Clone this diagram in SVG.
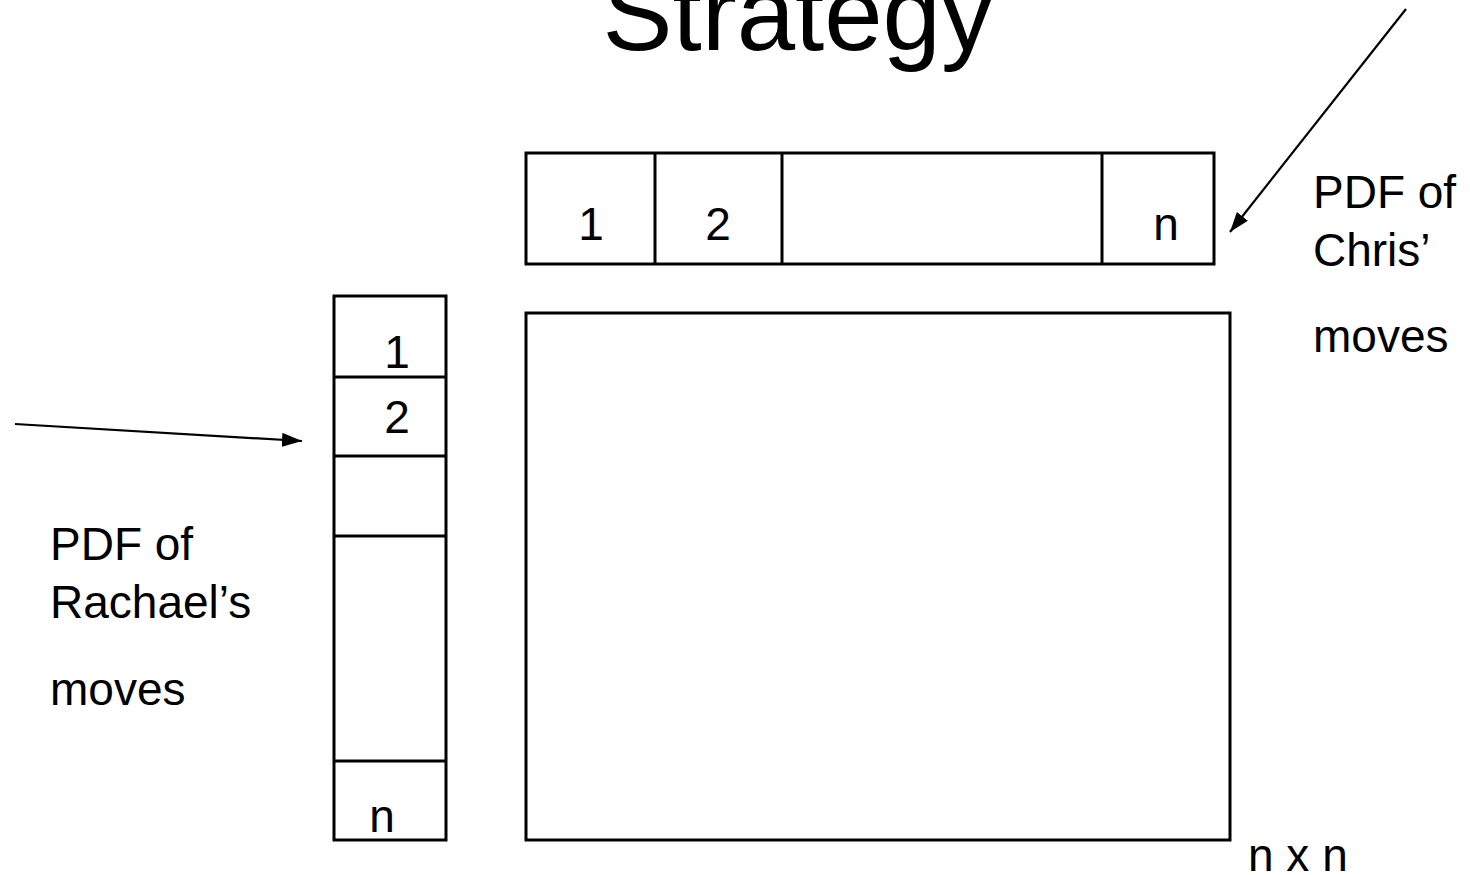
<svg xmlns="http://www.w3.org/2000/svg" width="1470" height="875" viewBox="0 0 1470 875">
<defs>
<style>
.box{fill:#fff;stroke:#000;stroke-width:3}
.div{stroke:#000;stroke-width:3;fill:none}
.t{font-family:"Liberation Sans",Arial,sans-serif;font-size:46px;fill:#000}
.c{text-anchor:middle}
.conn{stroke:#000;stroke-width:2.2;fill:none}
</style>
<marker id="ah" viewBox="0 0 10 10" refX="10" refY="5" markerWidth="8.5" markerHeight="6.5" markerUnits="userSpaceOnUse" orient="auto" preserveAspectRatio="none">
<path d="M0,0 L10,5 L0,10 z" fill="#000"/>
</marker>
<marker id="ah2" viewBox="0 0 10 10" refX="10" refY="5" markerWidth="20" markerHeight="14" markerUnits="userSpaceOnUse" orient="auto" preserveAspectRatio="none">
<path d="M0,0 L10,5 L0,10 z" fill="#000"/>
</marker>
</defs>
<rect width="1470" height="875" fill="#fff"/>
<g id="title"><text class="t c" x="798" y="50" style="font-size:105px">Strategy</text></g>
<g id="chris-pdf">
<rect class="box" x="526" y="153" width="688" height="111"/>
<line class="div" x1="655" y1="153" x2="655" y2="264"/>
<line class="div" x1="782" y1="153" x2="782" y2="264"/>
<line class="div" x1="1102" y1="153" x2="1102" y2="264"/>
<text class="t c" x="591" y="240">1</text>
<text class="t c" x="718" y="240">2</text>
<text class="t c" x="1166" y="240">n</text>
</g>
<g id="rachael-pdf">
<rect class="box" x="334" y="296" width="112" height="544"/>
<line class="div" x1="334" y1="377" x2="446" y2="377"/>
<line class="div" x1="334" y1="456" x2="446" y2="456"/>
<line class="div" x1="334" y1="536" x2="446" y2="536"/>
<line class="div" x1="334" y1="761" x2="446" y2="761"/>
<text class="t c" x="397" y="368">1</text>
<text class="t c" x="397" y="433">2</text>
<text class="t c" x="382" y="832">n</text>
</g>
<g id="matrix">
<rect class="box" x="526" y="313" width="704" height="527"/>
<text class="t" x="1248" y="871">n x n</text>
</g>
<g id="chris-label">
<text class="t" x="1313" y="208">PDF of</text>
<text class="t" x="1313" y="266">Chris’</text>
<text class="t" x="1313" y="352">moves</text>
</g>
<g id="rachael-label">
<text class="t" x="50" y="560">PDF of</text>
<text class="t" x="50" y="618">Rachael’s</text>
<text class="t" x="50" y="705">moves</text>
</g>
<g id="connectors">
<line class="conn" x1="1406" y1="9" x2="1230" y2="232" marker-end="url(#ah2)"/>
<line class="conn" x1="15" y1="424" x2="302" y2="441" marker-end="url(#ah2)"/>
</g>
</svg>
